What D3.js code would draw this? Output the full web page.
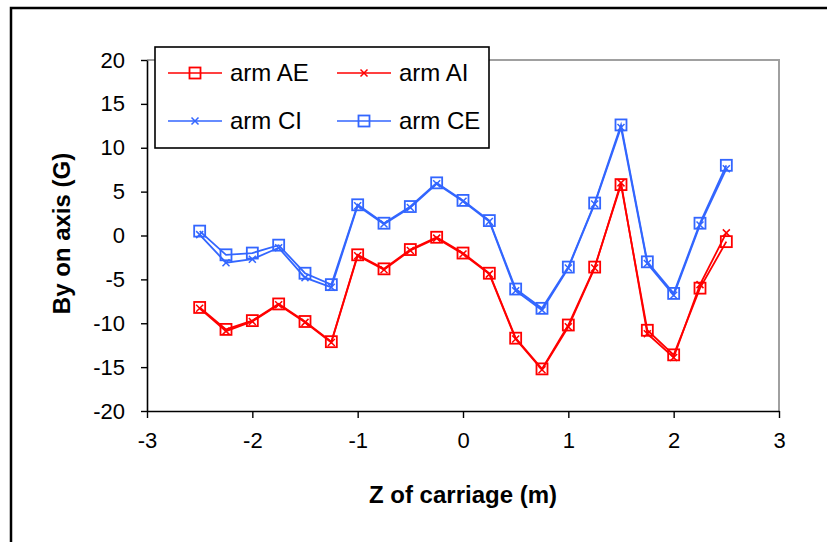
<!DOCTYPE html>
<html><head><meta charset="utf-8">
<script src="https://cdn.jsdelivr.net/npm/d3@7"></script>
<style>body{margin:0;background:#fff}svg{display:block}</style>
</head><body>
<script>
const zValues = [-2.5,-2.25,-2.0,-1.75,-1.5,-1.25,-1.0,-0.75,-0.5,-0.25,0,0.25,0.5,0.75,1.0,1.25,1.5,1.75,2.0,2.25,2.5];
const armAE = [-8.2,-10.7,-9.7,-7.8,-9.8,-12.1,-2.2,-3.8,-1.6,-0.2,-2.0,-4.3,-11.7,-15.2,-10.2,-3.6,5.8,-10.8,-13.6,-6.0,-0.7];
const armAI = [-8.3,-10.9,-9.8,-7.9,-9.9,-12.2,-2.3,-3.9,-1.7,-0.3,-2.1,-4.4,-11.8,-15.3,-10.4,-3.7,6.0,-11.2,-13.9,-5.6,0.3];
const armCI = [0.1,-3.1,-2.7,-1.4,-4.8,-5.9,3.4,1.3,3.2,5.9,3.9,1.6,-6.3,-8.5,-3.7,3.6,12.3,-3.2,-6.8,1.2,7.6];
const armCE = [0.5,-2.2,-2.0,-1.1,-4.3,-5.6,3.5,1.4,3.3,6.0,4.0,1.7,-6.1,-8.3,-3.6,3.7,12.6,-3.0,-6.6,1.4,8.0];
const seriesNames = ["arm AE","arm AI","arm CI","arm CE"];
const xTicks = [-3,-2,-1,0,1,2,3];
const yTicks = [-20,-15,-10,-5,0,5,10,15,20];
const xTitle = "Z of carriage (m)";
const yTitle = "By on axis (G)";

const W = 827, H = 542;
const RED = "#ff0000", BLUE = "#3366ff";
const series = [
  {name: seriesNames[0], values: armAE, color: RED, marker: "square"},
  {name: seriesNames[1], values: armAI, color: RED, marker: "x"},
  {name: seriesNames[2], values: armCI, color: BLUE, marker: "x"},
  {name: seriesNames[3], values: armCE, color: BLUE, marker: "square"}
];
const drawOrder = [0,1,2,3];

const svg = d3.select("body").append("svg").attr("width", W).attr("height", H)
  .style("font-family", "'Liberation Sans', Arial, sans-serif");

// outer frame
svg.append("rect").attr("x", 11).attr("y", 8).attr("width", W + 20).attr("height", H + 20)
  .attr("fill", "#fff").attr("stroke", "#000").attr("stroke-width", 2.5);

const x = d3.scaleLinear().domain([-3, 3]).range([147, 779]);
const y = d3.scaleLinear().domain([-20, 20]).range([411, 60]);

// plot area border (grey top & right)
svg.append("path")
  .attr("d", `M${x(-3)},${y(20)}H${x(3)}V${y(-20)}`)
  .attr("fill", "none").attr("stroke", "#a0a0a0").attr("stroke-width", 2);

const fmt = d => String(d);
// axes
const xAxis = svg.append("g").attr("transform", `translate(0,${y(-20)})`)
  .call(d3.axisBottom(x).tickValues(xTicks).tickSize(7).tickSizeOuter(0).tickPadding(14).tickFormat(fmt));
const yAxis = svg.append("g").attr("transform", `translate(${x(-3)},0)`)
  .call(d3.axisLeft(y).tickValues(yTicks).tickSize(6).tickSizeOuter(0).tickPadding(16).tickFormat(fmt));
[xAxis, yAxis].forEach(g => {
  g.select(".domain").attr("stroke", "#000").attr("stroke-width", 1.6);
  g.selectAll(".tick line").attr("stroke", "#000").attr("stroke-width", 1.4);
  g.selectAll(".tick text").attr("fill", "#000").style("font-size", "22px")
    .style("font-family", "'Liberation Sans', Arial, sans-serif");
});

// titles
svg.append("text").attr("x", x(0)).attr("y", 503).attr("text-anchor", "middle")
  .style("font-size", "24px").style("font-weight", "bold").text(xTitle);
svg.append("text").attr("transform", `translate(70,${(y(20)+y(-20))/2 - 2}) rotate(-90)`)
  .attr("text-anchor", "middle").style("font-size", "24px").style("font-weight", "bold").text(yTitle);

function drawMarker(g, type, cx, cy, color) {
  if (type === "square") {
    g.append("rect").attr("x", cx - 5.5).attr("y", cy - 5.5).attr("width", 11).attr("height", 11)
      .attr("fill", "none").attr("stroke", color).attr("stroke-width", 1.8);
  } else {
    const s = 3.5;
    g.append("path").attr("d", `M${cx-s},${cy-s}L${cx+s},${cy+s}M${cx-s},${cy+s}L${cx+s},${cy-s}`)
      .attr("stroke", color).attr("stroke-width", 1.5).attr("fill", "none");
  }
}

const line = d3.line().x(d => x(d[0])).y(d => y(d[1]));
drawOrder.forEach(i => {
  const s = series[i];
  const pts = zValues.map((z, k) => [z, s.values[k]]);
  const g = svg.append("g");
  g.append("path").attr("d", line(pts)).attr("fill", "none").attr("stroke", s.color).attr("stroke-width", 1.8);
  pts.forEach(p => drawMarker(g, s.marker, x(p[0]), y(p[1]), s.color));
});

// legend
const lg = svg.append("g");
lg.append("rect").attr("x", 155).attr("y", 47).attr("width", 334).attr("height", 101)
  .attr("fill", "#fff").attr("stroke", "#000").attr("stroke-width", 1.6);
const legendPos = [[168, 73], [337, 73], [168, 121], [337, 121]];
series.forEach((s, i) => {
  const [lx, ly] = legendPos[i];
  lg.append("line").attr("x1", lx).attr("x2", lx + 54).attr("y1", ly).attr("y2", ly)
    .attr("stroke", s.color).attr("stroke-width", 1.6);
  drawMarker(lg, s.marker, lx + 27, ly, s.color);
  lg.append("text").attr("x", lx + 62).attr("y", ly + 8).style("font-size", "24px").attr("fill", "#000").text(s.name);
});
</script>
</body></html>
